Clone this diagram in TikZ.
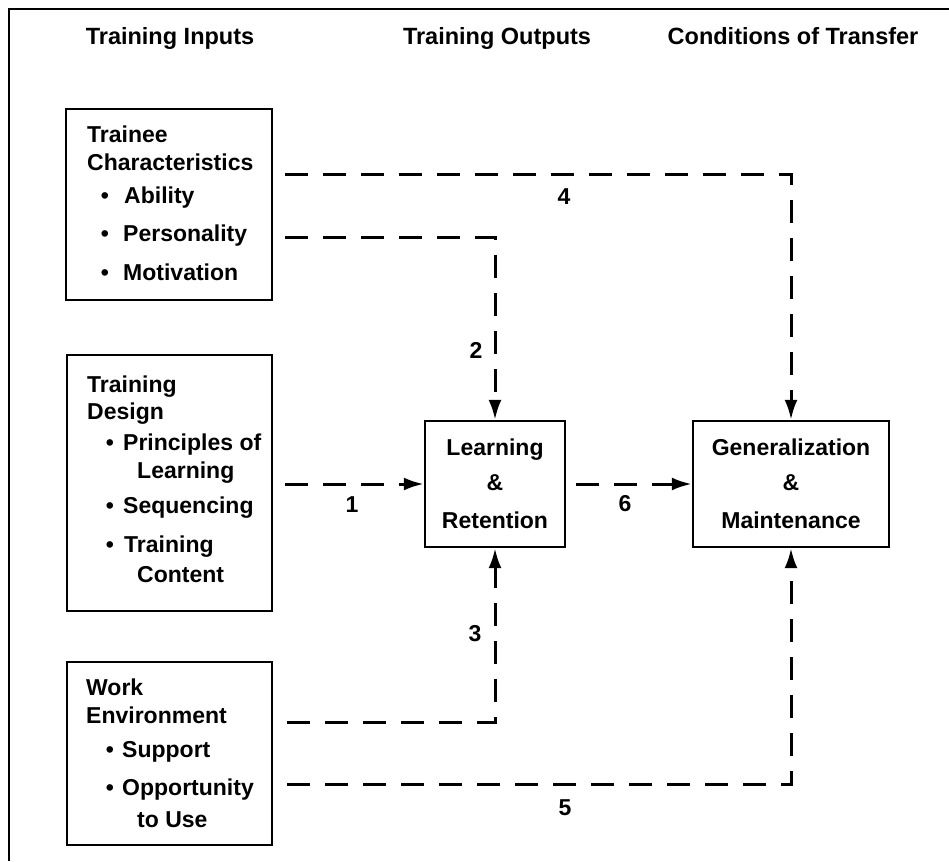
\documentclass[tikz,border=0pt]{standalone}
\usepackage{fontspec}
\setmainfont{Liberation Sans}
\usetikzlibrary{arrows.meta}
\begin{document}
\begin{tikzpicture}[x=1pt,y=-1pt,
  box/.style={draw, line width=2.4pt, inner sep=0pt},
  txt/.style={font=\fontsize{23}{28}\selectfont\bfseries, inner sep=0pt, anchor=base west},
  bul/.style={font=\fontsize{23}{28}\selectfont\bfseries, inner sep=0pt, anchor=base},
  ctxt/.style={font=\fontsize{23}{28}\selectfont\bfseries, inner sep=0pt, anchor=base},
  hdr/.style={font=\fontsize{23.5}{28}\selectfont\bfseries, inner sep=0pt, anchor=base},
  num/.style={font=\fontsize{23}{28}\selectfont\bfseries, inner sep=0pt, anchor=center},
  dline/.style={line width=3pt, dash pattern=on 23pt off 15pt},
  arrowtip/.style={-{Latex[length=20pt,width=13pt]}}
]
\useasboundingbox (0,0) rectangle (949,861);
\fill[white] (0,0) rectangle (949,861);
\draw[line width=1.5pt] (9,861) -- (9,9) -- (949,9);

% headers
\node[hdr] (h1) at (170,45) {Training Inputs};
\node[hdr] (h2) at (497,45) {Training Outputs};
\node[hdr] (h3) at (793,45) {Conditions of Transfer};

% boxes
\node[box, minimum width=206pt, minimum height=191pt] (tc) at (169,204.5) {};
\node[box, minimum width=205pt, minimum height=256pt] (td) at (169.5,483) {};
\node[box, minimum width=205pt, minimum height=183pt] (we) at (169.5,753.5) {};
\node[box, minimum width=140pt, minimum height=126pt] (lr) at (495,484) {};
\node[box, minimum width=196pt, minimum height=126pt] (gm) at (791,484) {};

% trainee characteristics
\node[txt] (tct1) at (87,143) {Trainee};
\node[txt] (tct2) at (87,171) {Characteristics};
\node[bul] (tcb1) at (105,203) {•};
\node[txt] (tci1) at (124,203) {Ability};
\node[bul] (tcb2) at (105,241) {•};
\node[txt] (tci2) at (123,241) {Personality};
\node[bul] (tcb3) at (105,280) {•};
\node[txt] (tci3) at (123,280) {Motivation};

% training design
\node[txt] (tdt1) at (87,392) {Training};
\node[txt] (tdt2) at (87,419) {Design};
\node[bul] (tdb1) at (110,450) {•};
\node[txt] (tdi1) at (123,450) {Principles of};
\node[txt] (tdi1b) at (137,478) {Learning};
\node[bul] (tdb2) at (110,513) {•};
\node[txt] (tdi2) at (123,513) {Sequencing};
\node[bul] (tdb3) at (110,552) {•};
\node[txt] (tdi3) at (124,552) {Training};
\node[txt] (tdi3b) at (137,582) {Content};

% work environment
\node[txt] (wet1) at (86,695) {Work};
\node[txt] (wet2) at (86,723) {Environment};
\node[bul] (web1) at (110,757) {•};
\node[txt] (wei1) at (122,757) {Support};
\node[bul] (web2) at (110,795) {•};
\node[txt] (wei2) at (122,795) {Opportunity};
\node[txt] (wei2b) at (137,827) {to Use};

% outputs
\node[ctxt] (lr1) at (495,455) {Learning};
\node[ctxt] (lr2) at (495,490) {\&};
\node[ctxt] (lr3) at (495,528) {Retention};
\node[ctxt] (gm1) at (791,455) {Generalization};
\node[ctxt] (gm2) at (791,490) {\&};
\node[ctxt] (gm3) at (791,528) {Maintenance};

% connectors
\coordinate (s4) at (285,174);
\coordinate (s2) at (285,237);
\coordinate (s1) at (285,484);
\coordinate (s3) at (287,722);
\coordinate (s5) at (287,784);
\draw[dline,arrowtip] (s4) -| (gm.north);
\draw[dline,arrowtip] (s2) -| (lr.north);
\draw[dline,arrowtip] (s1) -- (lr.west);
\draw[dline,arrowtip] (s3) -| (lr.south);
\draw[dline,arrowtip] (s5) -| (gm.south);
\draw[dline,arrowtip,shorten <=10pt] (lr.east) -- (gm.west);

% labels
\node[num] (n1) at (352,505) {1};
\node[num] (n2) at (476,350) {2};
\node[num] (n3) at (475,634) {3};
\node[num] (n4) at (564,197) {4};
\node[num] (n5) at (565,808) {5};
\node[num] (n6) at (625,504) {6};
\end{tikzpicture}
\end{document}
